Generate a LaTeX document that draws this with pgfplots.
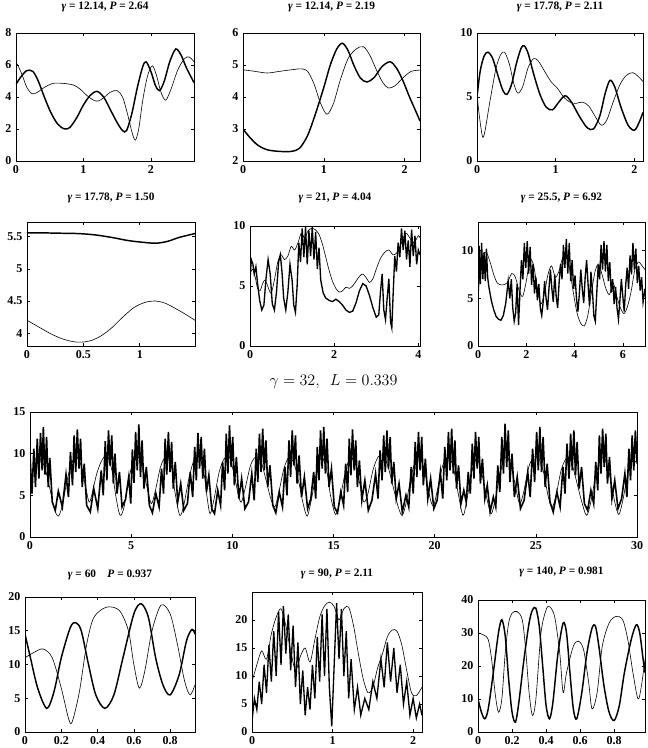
\documentclass[border=0pt]{standalone}
\usepackage{fontspec}
\setmainfont{Liberation Serif}
\usepackage{pgfplots}
\pgfplotsset{compat=1.18}
\pgfplotsset{
  pan/.style={scale only axis, anchor=south west,
    axis line style={line width=0.5pt},
    tick align=inside, major tick length=2pt,
    tick style={black, line width=0.4pt},
    tick label style={font=\fontsize{9}{10}\selectfont\bfseries},
    /pgf/number format/assume math mode=true,
    title style={font=\fontsize{8.5}{10}\selectfont\bfseries, at={(0.5,1)}, anchor=center, inner sep=0pt},
  },
  thk/.style={line width=1.1pt, black, mark=none},
  thn/.style={line width=0.45pt, black, mark=none},
}
\begin{document}
\begin{tikzpicture}
\useasboundingbox (0,0) rectangle (485.25pt,561pt);

% ---------------- Row 1 ----------------
\begin{axis}[pan, at={(12pt,440.25pt)}, width=133.5pt, height=96pt,
  xmin=0, xmax=2.64, ymin=0, ymax=8, xtick={0,1,2}, ytick={0,2,4,6,8},
  title={\textit{γ} = 12.14, \textit{P} = 2.64}, title style={yshift=13.5pt}]
\addplot[thk, smooth, tension=0.5] coordinates {(0,4.8)(0.08,5.3)(0.16,5.65)(0.25,5.6)(0.33,5.0)(0.42,4.0)(0.52,3.0)(0.62,2.3)(0.72,2.0)(0.8,2.1)(0.9,2.7)(1.0,3.5)(1.1,4.1)(1.2,4.35)(1.3,4.0)(1.4,3.2)(1.5,2.4)(1.58,1.9)(1.64,1.9)(1.72,3.0)(1.8,4.6)(1.88,5.9)(1.93,6.2)(2.0,5.6)(2.07,4.7)(2.13,4.4)(2.2,5.0)(2.28,6.2)(2.37,7.0)(2.45,6.6)(2.53,5.8)(2.64,4.9)};
\addplot[thn, smooth, tension=0.5] coordinates {(0,6.2)(0.08,5.5)(0.16,4.6)(0.24,4.2)(0.32,4.3)(0.42,4.6)(0.55,4.85)(0.7,4.85)(0.85,4.75)(0.95,4.5)(1.05,4.1)(1.15,3.8)(1.22,3.75)(1.3,3.95)(1.4,4.3)(1.5,4.4)(1.58,4.0)(1.65,3.0)(1.72,1.8)(1.77,1.3)(1.82,2.0)(1.88,3.8)(1.95,5.3)(2.02,5.95)(2.08,5.4)(2.15,4.3)(2.22,3.8)(2.3,4.5)(2.4,5.7)(2.5,6.4)(2.57,6.5)(2.64,6.2)};
\end{axis}

\begin{axis}[pan, at={(182.25pt,440.25pt)}, width=132.75pt, height=96pt,
  xmin=0, xmax=2.19, ymin=2, ymax=6, xtick={0,1,2}, ytick={2,3,4,5,6},
  title={\textit{γ} = 12.14, \textit{P} = 2.19}, title style={yshift=13.5pt}]
\addplot[thk, smooth, tension=0.5] coordinates {(0,3.0)(0.08,2.75)(0.18,2.5)(0.3,2.35)(0.45,2.3)(0.6,2.3)(0.7,2.4)(0.8,2.8)(0.9,3.5)(1.0,4.3)(1.08,5.0)(1.16,5.5)(1.23,5.68)(1.3,5.45)(1.37,5.0)(1.45,4.6)(1.53,4.47)(1.62,4.6)(1.72,4.95)(1.82,5.1)(1.9,4.9)(1.98,4.5)(2.06,4.0)(2.13,3.6)(2.19,3.25)};
\addplot[thn, smooth, tension=0.5] coordinates {(0,4.85)(0.15,4.8)(0.3,4.75)(0.45,4.8)(0.6,4.85)(0.72,4.88)(0.8,4.8)(0.88,4.4)(0.96,3.8)(1.04,3.46)(1.12,3.8)(1.2,4.5)(1.3,5.2)(1.4,5.5)(1.49,5.57)(1.57,5.3)(1.65,4.85)(1.73,4.45)(1.8,4.28)(1.88,4.35)(1.98,4.6)(2.08,4.8)(2.19,4.84)};
\end{axis}

\begin{axis}[pan, at={(357.75pt,440.25pt)}, width=124.5pt, height=96pt,
  xmin=0, xmax=2.11, ymin=0, ymax=10, xtick={0,1,2}, ytick={0,5,10},
  title={\textit{γ} = 17.78, \textit{P} = 2.11}, title style={yshift=13.5pt}]
\addplot[thk, smooth, tension=0.5] coordinates {(0,5)(0.04,7)(0.09,8.2)(0.14,8.5)(0.2,8.0)(0.27,6.6)(0.33,5.5)(0.38,5.2)(0.44,6.0)(0.5,7.6)(0.56,8.8)(0.6,9.0)(0.65,8.4)(0.72,6.8)(0.8,5.2)(0.88,4.2)(0.96,4.0)(1.04,4.6)(1.12,5.1)(1.2,4.6)(1.3,3.5)(1.4,2.6)(1.48,2.5)(1.56,3.5)(1.63,5.3)(1.69,6.3)(1.75,5.8)(1.83,4.2)(1.92,2.8)(2.0,2.4)(2.06,3.0)(2.11,3.8)};
\addplot[thn, smooth, tension=0.5] coordinates {(0,5.2)(0.03,3.5)(0.07,1.9)(0.1,2.3)(0.16,4.5)(0.24,7.2)(0.3,8.3)(0.35,8.5)(0.41,7.6)(0.47,6.0)(0.52,5.3)(0.58,5.8)(0.65,7.3)(0.72,8.0)(0.78,7.8)(0.86,7.0)(0.94,6.2)(1.02,5.7)(1.1,5.0)(1.18,4.6)(1.26,4.5)(1.34,4.6)(1.42,4.3)(1.5,3.5)(1.58,2.8)(1.65,3.2)(1.73,4.6)(1.82,6.0)(1.9,6.7)(1.98,6.9)(2.05,6.6)(2.11,6.2)};
\end{axis}

% ---------------- Row 2 ----------------
\begin{axis}[pan, at={(20.25pt,301.5pt)}, width=126pt, height=93pt,
  xmin=0, xmax=1.49, ymin=3.8, ymax=5.73, xtick={0,0.5,1}, ytick={4,4.5,5,5.5},
  title={\textit{γ} = 17.78, \textit{P} = 1.50}, title style={yshift=12pt}]
\addplot[thk, smooth, tension=0.5] coordinates {(0,5.56)(0.15,5.56)(0.3,5.555)(0.45,5.55)(0.6,5.53)(0.75,5.49)(0.9,5.44)(1.05,5.41)(1.15,5.4)(1.25,5.43)(1.35,5.49)(1.49,5.55)};
\addplot[thn, smooth, tension=0.5] coordinates {(0,4.2)(0.1,4.1)(0.2,4.0)(0.3,3.92)(0.4,3.87)(0.48,3.86)(0.56,3.88)(0.65,3.95)(0.75,4.08)(0.85,4.25)(0.95,4.4)(1.05,4.48)(1.14,4.5)(1.22,4.47)(1.3,4.4)(1.4,4.3)(1.49,4.2)};
\end{axis}

\begin{axis}[pan, at={(187.5pt,301.5pt)}, width=127.5pt, height=90pt,
  xmin=0, xmax=4.04, ymin=0, ymax=10, xtick={0,2,4}, ytick={0,5,10},
  title={\textit{γ} = 21, \textit{P} = 4.04}, title style={yshift=15pt}]
\addplot[thn, smooth, tension=0.5] coordinates {(0,6.0)(0.06,6.4)(0.12,5.8)(0.18,4.8)(0.24,4.6)(0.3,5.2)(0.36,5.5)(0.42,5.0)(0.5,4.4)(0.58,5.5)(0.66,7.0)(0.74,7.6)(0.82,7.2)(0.9,7.5)(0.98,8.3)(1.06,8.0)(1.14,8.6)(1.22,9.4)(1.3,9.0)(1.38,9.6)(1.46,9.8)(1.55,9.7)(1.64,9.3)(1.72,8.5)(1.8,7.4)(1.88,6.3)(1.96,5.4)(2.04,4.8)(2.12,4.5)(2.2,4.6)(2.28,4.9)(2.36,4.8)(2.44,5.0)(2.52,5.4)(2.6,5.8)(2.68,6.0)(2.76,5.7)(2.84,5.3)(2.92,5.6)(3.0,6.4)(3.1,7.3)(3.2,7.8)(3.3,8.0)(3.4,7.6)(3.5,7.8)(3.6,8.6)(3.7,9.4)(3.8,9.0)(3.9,8.6)(4.0,9.2)(4.04,9.0)};
\addplot[thk, line width=1.0pt] coordinates {(0,5.5)(0.03,7.2)(0.07,6.8)(0.1,6.0)(0.14,6.6)(0.18,5.2)(0.23,3.8)(0.28,3.0)(0.33,3.4)(0.38,5.6)(0.43,7.2)(0.48,6.0)(0.53,3.5)(0.58,3.0)(0.63,4.5)(0.68,7.0)(0.72,7.6)(0.76,6.2)(0.8,4.0)(0.85,3.0)(0.9,4.5)(0.95,6.8)(1.0,5.5)(1.04,3.4)(1.08,2.8)(1.12,5.0)(1.16,8.6)(1.2,7.0)(1.24,9.8)(1.28,7.4)(1.32,9.9)(1.36,6.8)(1.4,9.6)(1.44,7.5)(1.48,9.9)(1.52,7.2)(1.56,9.5)(1.6,6.4)(1.64,8.2)(1.68,5.5)(1.74,4.4)(1.8,4.0)(1.88,3.8)(1.96,3.7)(2.04,3.9)(2.12,3.7)(2.2,3.4)(2.28,3.0)(2.36,2.8)(2.44,2.9)(2.52,3.6)(2.6,4.6)(2.68,5.2)(2.76,5.0)(2.84,4.2)(2.92,3.2)(3.0,2.4)(3.06,2.6)(3.1,4.5)(3.14,6.0)(3.18,3.0)(3.22,2.2)(3.26,4.0)(3.3,5.6)(3.34,2.0)(3.37,1.5)(3.4,4.2)(3.44,7.5)(3.48,6.2)(3.52,8.6)(3.56,7.4)(3.6,9.8)(3.64,8.0)(3.68,9.6)(3.72,7.2)(3.76,8.8)(3.8,6.6)(3.84,9.7)(3.88,7.5)(3.92,9.2)(3.96,6.8)(4.0,8.0)(4.04,7.6)};
\end{axis}

\begin{axis}[pan, at={(358.5pt,301.5pt)}, width=125.25pt, height=93pt,
  xmin=0, xmax=6.92, ymin=0, ymax=13, xtick={0,2,4,6}, ytick={0,5,10},
  title={\textit{γ} = 25.5, \textit{P} = 6.92}, title style={yshift=12pt}]
\addplot[thn, smooth, tension=0.5] coordinates {(0,5.4)(0.1,8)(0.2,9.6)(0.35,9.8)(0.5,8.8)(0.65,7.5)(0.8,6.6)(1.0,6.4)(1.2,6.6)(1.4,7.6)(1.55,7.2)(1.7,5.8)(1.85,5.2)(2.0,6.8)(2.15,9.0)(2.3,8.5)(2.45,6.2)(2.6,4.4)(2.75,5.5)(2.9,7.5)(3.05,8.4)(3.2,7.2)(3.35,7.8)(3.5,9.2)(3.65,9.6)(3.8,8.0)(3.95,5.6)(4.1,3.5)(4.25,2.4)(4.4,2.1)(4.55,3.2)(4.7,5.6)(4.85,7.8)(5.0,8.6)(5.15,7.4)(5.3,6.0)(5.45,5.4)(5.6,6.6)(5.75,5.2)(5.9,4.0)(6.05,3.4)(6.2,4.2)(6.35,5.8)(6.5,8.0)(6.65,8.8)(6.8,8.4)(6.92,8.0)};
\addplot[thk, line width=1.0pt] coordinates {(0,4)(0.05,10.5)(0.1,6.5)(0.15,10.8)(0.2,7.0)(0.25,9.8)(0.3,6.8)(0.35,10.2)(0.4,7.2)(0.45,6.2)(0.55,4.8)(0.65,3.8)(0.75,3.1)(0.85,2.8)(0.95,2.7)(1.05,3.2)(1.15,4.5)(1.25,6.8)(1.32,5.0)(1.38,7.0)(1.44,4.0)(1.5,2.6)(1.56,3.5)(1.62,6.5)(1.68,2.2)(1.74,5.8)(1.8,9.0)(1.86,7.0)(1.92,10.8)(1.98,8.2)(2.04,11.0)(2.1,7.6)(2.16,10.4)(2.22,6.4)(2.28,8.6)(2.34,5.5)(2.4,7.2)(2.46,4.8)(2.52,6.5)(2.58,4.0)(2.64,3.2)(2.7,4.6)(2.76,6.8)(2.82,5.0)(2.88,3.8)(2.94,6.0)(3.0,8.0)(3.06,6.0)(3.12,4.6)(3.18,7.5)(3.24,5.2)(3.3,4.0)(3.36,6.6)(3.42,8.6)(3.48,7.0)(3.54,10.6)(3.6,8.2)(3.66,11.2)(3.72,7.6)(3.78,10.8)(3.84,6.8)(3.9,9.0)(3.96,6.0)(4.02,7.4)(4.08,5.0)(4.14,3.6)(4.2,5.5)(4.26,8.0)(4.32,6.0)(4.38,4.5)(4.44,7.2)(4.5,9.0)(4.56,6.5)(4.62,4.2)(4.68,7.8)(4.74,5.8)(4.8,3.2)(4.86,2.6)(4.92,5.5)(4.98,8.5)(5.04,7.0)(5.1,10.6)(5.16,8.0)(5.22,11.0)(5.28,7.8)(5.34,10.6)(5.4,6.8)(5.46,8.8)(5.52,5.6)(5.58,7.0)(5.64,4.4)(5.7,6.2)(5.76,4.0)(5.82,2.8)(5.88,4.8)(5.94,7.0)(6.0,5.2)(6.06,3.6)(6.12,6.4)(6.18,8.2)(6.24,6.0)(6.3,9.5)(6.36,7.5)(6.42,10.8)(6.48,8.0)(6.54,10.2)(6.6,6.6)(6.66,8.4)(6.72,5.8)(6.78,7.2)(6.84,4.6)(6.92,6.0)};
\end{axis}

% ---------------- Row 3 ----------------
\begin{axis}[pan, at={(22.5pt,158.25pt)}, width=455.25pt, height=93.75pt,
  xmin=0, xmax=30, ymin=0, ymax=15, xtick={0,5,...,30}, ytick={0,5,10,15},
  title={$\gamma = 32,\ \ L = 0.339$}, title style={font=\fontsize{11.5}{13}\selectfont, yshift=16.5pt}]
\addplot[thn, smooth, tension=0.5] coordinates {(0,6.5)(0.25,8.6)(0.5,9.4)(0.75,8.2)(1.0,5.6)(1.2,3.4)(1.4,2.5)(1.6,3.8)(1.8,6.4)(2.05,8.8)(2.3,9.6)(2.55,8.4)(2.75,6.0)(2.92,4.2)(3.05,5.0)(3.3,7.6)(3.55,9.2)(3.8,9.8)(4.05,8.0)(4.25,4.8)(4.45,2.6)(4.65,3.6)(4.85,6.6)(5.1,9.0)(5.35,9.6)(5.6,8.0)(5.8,5.8)(6.0,4.0)(6.2,5.6)(6.45,8.4)(6.7,9.6)(6.95,9.0)(7.15,5.6)(7.4,2.6)(7.6,3.8)(7.85,7.0)(8.1,9.2)(8.35,9.8)(8.6,7.6)(8.75,4.8)(8.9,2.8)(9.1,4.6)(9.35,7.8)(9.6,9.4)(9.85,9.6)(10.1,7.4)(10.3,5.0)(10.45,4.2)(10.65,6.0)(10.9,8.6)(11.15,9.6)(11.4,9.2)(11.65,7.0)(11.9,4.6)(12.1,3.6)(12.3,5.4)(12.55,8.2)(12.8,9.6)(13.05,8.8)(13.3,6.4)(13.5,4.0)(13.7,2.5)(13.9,4.4)(14.15,7.6)(14.4,9.6)(14.65,8.2)(14.85,5.0)(15.1,2.7)(15.3,4.2)(15.55,7.4)(15.8,9.4)(16.05,9.0)(16.3,6.4)(16.5,4.2)(16.7,5.2)(16.95,8.0)(17.2,9.6)(17.45,9.8)(17.7,8.4)(17.95,6.0)(18.2,3.6)(18.4,2.6)(18.6,4.2)(18.85,7.4)(19.1,9.4)(19.35,9.2)(19.6,6.8)(19.8,4.4)(19.95,3.8)(20.15,5.8)(20.4,8.6)(20.65,9.6)(20.9,8.6)(21.15,5.4)(21.4,2.6)(21.6,4.6)(21.85,8.0)(22.1,9.4)(22.35,7.4)(22.6,4.4)(22.8,2.8)(23.0,4.6)(23.25,7.8)(23.5,9.6)(23.75,8.8)(24.0,6.0)(24.2,4.0)(24.4,5.4)(24.65,8.4)(24.9,9.6)(25.15,9.4)(25.4,7.6)(25.6,5.0)(25.8,3.6)(26.0,5.0)(26.25,8.0)(26.5,9.4)(26.75,9.0)(27.0,6.8)(27.25,4.4)(27.5,2.6)(27.7,4.0)(27.95,7.2)(28.2,9.4)(28.45,9.2)(28.7,6.8)(28.9,4.2)(29.1,2.7)(29.3,4.4)(29.55,7.6)(29.8,9.2)(30,8.8)};
\addplot[thk, line width=1.2pt] coordinates {(0,9.8)(0.1,5.2)(0.19,10.6)(0.27,6.0)(0.36,11.8)(0.44,7.0)(0.52,12.5)(0.6,8.0)(0.66,13.2)(0.74,7.5)(0.82,12.0)(0.9,6.0)(0.98,9.5)(1.1,4.2)(1.25,3.2)(1.4,5.5)
(1.6,3.6)(1.78,7.5)(1.9,4.8)(2.0,10.2)(2.1,6.2)(2.18,12.2)(2.26,7.8)(2.34,12.9)(2.42,8.2)(2.5,11.8)(2.58,6.0)(2.68,8.8)(2.8,3.8)(2.98,3.0)
(3.15,5.8)(3.35,3.4)(3.52,8.0)(3.62,5.0)(3.72,11.5)(3.8,6.8)(3.88,12.8)(3.96,8.5)(4.04,12.2)(4.12,6.4)(4.2,10.0)(4.3,5.2)(4.42,7.8)(4.55,3.6)
(4.72,4.5)(4.88,7.2)(4.98,4.0)(5.06,10.5)(5.14,6.5)(5.22,12.6)(5.3,8.0)(5.38,13.5)(5.46,7.2)(5.54,11.6)(5.63,5.8)(5.75,8.4)(5.9,3.8)(6.05,2.9)
(6.22,5.2)(6.38,3.6)(6.5,8.2)(6.6,5.2)(6.68,11.8)(6.76,7.5)(6.84,12.6)(6.92,7.8)(7.0,11.4)(7.08,5.8)(7.18,9.0)(7.3,4.2)(7.45,6.4)(7.6,3.2)
(7.78,4.0)(7.92,7.8)(8.04,4.8)(8.14,10.8)(8.22,6.8)(8.3,12.5)(8.38,8.2)(8.46,12.0)(8.54,7.0)(8.62,10.6)(8.72,5.4)(8.84,7.4)(8.98,3.4)(9.12,2.8)
(9.28,5.6)(9.42,3.8)(9.52,9.0)(9.62,5.6)(9.7,12.4)(9.78,7.6)(9.86,13.4)(9.94,8.4)(10.02,12.0)(10.1,6.2)(10.2,9.6)(10.32,4.6)(10.46,7.0)(10.62,3.4)
(10.8,4.2)(10.96,7.6)(11.08,4.4)(11.18,10.6)(11.26,6.6)(11.34,12.4)(11.42,7.8)(11.5,13.0)(11.58,8.0)(11.66,11.6)(11.75,6.0)(11.86,8.6)(12.0,3.8)(12.15,2.9)
(12.32,5.4)(12.48,3.6)(12.6,8.4)(12.7,5.0)(12.8,11.6)(12.88,7.2)(12.96,12.8)(13.04,8.6)(13.12,12.2)(13.2,6.4)(13.3,9.8)(13.42,4.8)(13.56,7.2)(13.72,3.4)
(13.88,4.6)(14.02,7.8)(14.12,4.6)(14.2,10.8)(14.28,6.8)(14.36,12.8)(14.44,8.2)(14.52,13.2)(14.6,7.6)(14.68,11.8)(14.78,6.0)(14.9,8.2)(15.04,3.6)(15.2,2.9)
(15.36,5.4)(15.5,3.8)(15.6,8.8)(15.7,5.4)(15.78,11.8)(15.86,7.4)(15.94,12.9)(16.02,8.0)(16.1,11.6)(16.18,6.0)(16.28,9.2)(16.4,4.4)(16.55,6.8)(16.72,3.2)
(16.9,4.4)(17.08,7.6)(17.2,4.6)(17.3,10.4)(17.4,6.8)(17.48,12.2)(17.56,7.8)(17.64,12.8)(17.72,8.2)(17.8,12.0)(17.88,6.4)(17.98,9.0)(18.1,4.6)(18.24,6.4)(18.4,3.0)
(18.58,5.0)(18.72,3.6)(18.84,8.4)(18.94,5.2)(19.04,11.4)(19.12,7.2)(19.2,12.6)(19.28,8.0)(19.36,12.0)(19.44,6.2)(19.54,9.4)(19.66,4.6)(19.8,7.0)(19.96,3.4)
(20.12,4.4)(20.28,7.8)(20.4,4.6)(20.5,10.8)(20.6,6.8)(20.68,12.6)(20.76,8.0)(20.84,13.0)(20.92,7.6)(21.0,11.6)(21.08,5.8)(21.18,8.6)(21.3,4.0)(21.44,5.6)
(21.56,4.2)(21.66,7.8)(21.76,5.2)(21.86,11.2)(21.94,7.0)(22.02,12.6)(22.1,8.2)(22.18,12.0)(22.26,6.4)(22.36,9.4)(22.48,4.6)(22.6,6.2)(22.74,3.0)
(22.9,4.8)(23.02,3.6)(23.12,8.6)(23.22,5.4)(23.32,12.0)(23.4,7.6)(23.48,13.6)(23.56,8.4)(23.64,12.8)(23.72,6.6)(23.82,10.0)(23.94,4.8)(24.08,7.2)(24.24,3.4)
(24.42,4.4)(24.6,7.8)(24.72,4.8)(24.84,10.6)(24.94,6.6)(25.04,12.6)(25.12,8.0)(25.2,13.2)(25.28,7.8)(25.36,12.0)(25.46,6.0)(25.56,8.8)(25.7,4.2)(25.86,3.0)
(26.04,5.4)(26.2,3.6)(26.34,8.4)(26.44,5.2)(26.54,11.2)(26.64,7.0)(26.72,12.4)(26.8,8.0)(26.88,12.8)(26.96,7.4)(27.04,11.4)(27.14,5.8)(27.26,8.4)(27.4,4.0)(27.56,3.2)
(27.72,5.6)(27.86,4.0)(27.96,9.0)(28.06,5.6)(28.14,12.2)(28.22,7.6)(28.3,13.0)(28.38,8.4)(28.46,12.4)(28.54,6.4)(28.64,9.6)(28.76,4.6)(28.9,6.8)(29.06,3.4)
(29.24,4.6)(29.4,7.6)(29.5,4.8)(29.6,10.6)(29.68,6.8)(29.76,12.2)(29.84,8.0)(29.92,12.8)(30,9.0)};
\end{axis}

% ---------------- Row 4 ----------------
\begin{axis}[pan, at={(18.75pt,12pt)}, width=127.5pt, height=101.25pt,
  xmin=0, xmax=0.937, ymin=0, ymax=20, xtick={0,0.2,0.4,0.6,0.8}, ytick={0,5,10,15,20},
  title={\textit{γ} = 60\quad \textit{P} = 0.937}, title style={yshift=10.5pt}]
\addplot[thk, smooth, tension=0.5] coordinates {(0,14.5)(0.03,11)(0.07,6.5)(0.12,3.5)(0.16,6)(0.2,11)(0.25,15.5)(0.28,16.2)(0.31,15)(0.35,10)(0.39,5.5)(0.44,3.5)(0.49,5.5)(0.54,11)(0.6,17.5)(0.64,19)(0.68,17)(0.72,11)(0.76,7)(0.8,5.5)(0.85,8.5)(0.89,13.5)(0.92,15.2)(0.937,14.5)};
\addplot[thn, smooth, tension=0.5] coordinates {(0,11)(0.05,11.8)(0.1,12.3)(0.15,11)(0.2,6.5)(0.24,2)(0.26,1.5)(0.3,6)(0.34,13)(0.38,17)(0.45,18.5)(0.52,18)(0.57,15)(0.6,10)(0.63,6.5)(0.66,9)(0.7,15)(0.75,18.8)(0.8,17.5)(0.84,13)(0.88,7.5)(0.91,5.5)(0.937,7)};
\end{axis}

\begin{axis}[pan, at={(189pt,12pt)}, width=127.5pt, height=105pt,
  xmin=0, xmax=2.11, ymin=0, ymax=25, xtick={0,1,2}, ytick={0,5,10,15,20},
  title={\textit{γ} = 90, \textit{P} = 2.11}, title style={yshift=7.5pt}]
\addplot[thn, smooth, tension=0.5] coordinates {(0,9.0)(0.06,12.0)(0.12,14.5)(0.18,13.0)(0.24,17.5)(0.3,20.5)(0.36,22.0)(0.42,19.0)(0.48,14.5)(0.54,11.0)(0.6,13.5)(0.66,15.0)(0.72,12.5)(0.78,16.5)(0.84,20.5)(0.9,22.5)(0.96,23.2)(1.02,22.4)(1.08,20.0)(1.14,22.0)(1.2,22.3)(1.26,19.0)(1.32,14.0)(1.38,9.5)(1.44,7.0)(1.5,8.0)(1.56,11.5)(1.62,14.0)(1.68,17.0)(1.74,18.2)(1.8,18.0)(1.86,15.5)(1.92,11.0)(1.98,7.0)(2.04,6.5)(2.11,8.0)};
\addplot[thk, line width=1.0pt] coordinates {(0,2)(0.03,6)(0.06,4)(0.09,9)(0.12,5)(0.15,12)(0.18,7)(0.21,15.5)(0.24,9)(0.27,18)(0.3,10)(0.33,21.5)(0.36,12)(0.39,22.5)(0.42,14)(0.45,21)(0.48,11)(0.51,19)(0.54,8)(0.57,16)(0.6,5)(0.63,11)(0.66,3)(0.69,8)(0.72,4)(0.75,12)(0.78,6)(0.81,17)(0.84,9)(0.87,21)(0.9,10)(0.93,22)(0.96,8)(0.99,1)(1.02,12)(1.05,23)(1.08,13)(1.11,22)(1.14,10)(1.17,18)(1.2,6)(1.23,13)(1.27,4)(1.31,8)(1.35,3)(1.4,6)(1.45,4)(1.5,9)(1.55,6)(1.6,13)(1.64,8)(1.68,16)(1.72,9)(1.76,15)(1.8,7)(1.84,12)(1.88,5)(1.92,9)(1.96,3)(2.0,6)(2.04,2.5)(2.08,5)(2.11,3)};
\end{axis}

\begin{axis}[pan, at={(358.5pt,12pt)}, width=125.25pt, height=99pt,
  xmin=0, xmax=0.981, ymin=0, ymax=40, xtick={0,0.2,0.4,0.6,0.8}, ytick={0,10,20,30,40},
  title={\textit{γ} = 140, \textit{P} = 0.981}, title style={yshift=15pt}]
\addplot[thn, smooth, tension=0.5] coordinates {(0,30)(0.03,29.5)(0.06,28)(0.08,22)(0.1,12)(0.12,6)(0.14,10)(0.16,24)(0.18,33)(0.2,36)(0.23,36.5)(0.26,34)(0.28,25)(0.3,12)(0.32,5)(0.34,10)(0.37,30)(0.4,37)(0.42,38)(0.45,35)(0.48,24)(0.5,12)(0.52,18)(0.56,26)(0.59,27.5)(0.62,25)(0.65,15)(0.67,7)(0.7,12)(0.73,26)(0.77,33)(0.81,35)(0.85,34)(0.88,28)(0.91,18)(0.94,10)(0.96,14)(0.981,22)};
\addplot[thk, smooth, tension=0.5] coordinates {(0,10)(0.02,6)(0.04,4)(0.06,7)(0.09,18)(0.12,30)(0.14,34)(0.16,29)(0.18,16)(0.2,6)(0.22,3)(0.24,9)(0.27,22)(0.3,33)(0.32,37)(0.34,37.5)(0.36,32)(0.38,20)(0.4,8)(0.42,4)(0.44,9)(0.47,24)(0.5,33)(0.52,30)(0.54,18)(0.56,7)(0.58,4)(0.61,12)(0.64,24)(0.67,31.5)(0.69,32)(0.71,26)(0.74,14)(0.77,6)(0.8,3.5)(0.83,8)(0.86,18)(0.9,28)(0.93,32.5)(0.95,30)(0.97,22)(0.981,18)};
\end{axis}
\end{tikzpicture}
\end{document}
